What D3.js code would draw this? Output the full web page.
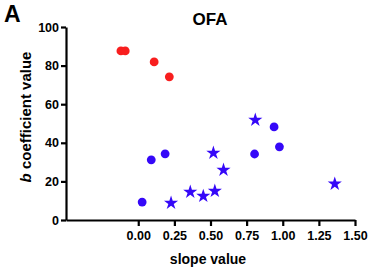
<!DOCTYPE html>
<html>
<head>
<meta charset="utf-8">
<script src="https://cdn.jsdelivr.net/npm/d3@7"></script>
<style>
body { margin: 0; background: #fff; }
text { font-family: "Liberation Sans", Arial, sans-serif; font-weight: bold; }
</style>
</head>
<body>
<div id="vis"></div>
<script>
// data
var redX = [-0.12, -0.09, 0.11, 0.215];
var redY = [87.6, 87.6, 81.9, 74.2];

var circleX = [0.027, 0.09, 0.186, 0.805, 0.94, 0.977];
var circleY = [9.3, 31.2, 34.3, 34.2, 48.2, 37.9];

var starX = [0.227, 0.36, 0.45, 0.53, 0.52, 0.59, 0.81, 1.36];
var starY = [8.8, 14.5, 12.4, 15, 34.7, 25.9, 51.8, 18.7];

var xTicks = [0, 0.25, 0.5, 0.75, 1.0, 1.25, 1.5];
var yTicks = [0, 20, 40, 60, 80, 100];

var width = 369, height = 268;

var svg = d3.select("#vis")
.append("svg")
.attr("width", width)
.attr("height", height);

var x = d3.scaleLinear().domain([-0.5, 1.5]).range([66, 355]);
var y = d3.scaleLinear().domain([0, 100]).range([220, 27]);

// axes
var xAxis = svg.append("g")
.attr("transform", "translate(0,220)")
.call(d3.axisBottom(x).tickValues(xTicks).tickFormat(d3.format(".2f")).tickSize(6).tickSizeOuter(0));

var yAxis = svg.append("g")
.attr("transform", "translate(66,0)")
.call(d3.axisLeft(y).tickValues(yTicks).tickSize(5).tickSizeOuter(0));

svg.selectAll(".domain, .tick line")
.attr("stroke", "#000")
.attr("stroke-width", 2.2);

xAxis.selectAll("text")
.attr("font-size", 12.5)
.attr("dy", "0.9em")
.attr("y", 9);

yAxis.selectAll("text")
.attr("font-size", 12.5)
.attr("x", -7);

// marks
svg.selectAll(".red")
.data(redX)
.enter()
.append("circle")
.attr("cx", function(d) { return x(d); })
.attr("cy", function(d, i) { return y(redY[i]); })
.attr("r", 4.4)
.attr("fill", "#f81e1e");

svg.selectAll(".dot")
.data(circleX)
.enter()
.append("circle")
.attr("cx", function(d) { return x(d); })
.attr("cy", function(d, i) { return y(circleY[i]); })
.attr("r", 4.4)
.attr("fill", "#3508f8");

var star = d3.symbol().type(d3.symbolStar).size(62);

svg.selectAll(".star")
.data(starX)
.enter()
.append("path")
.attr("d", star)
.attr("transform", function(d, i) { return "translate(" + x(d) + "," + y(starY[i]) + ")"; })
.attr("fill", "#3508f8");

// labels
svg.append("text")
.attr("x", 4)
.attr("y", 22)
.attr("font-size", 23)
.text("A");

svg.append("text")
.attr("text-anchor", "middle")
.attr("x", 210)
.attr("y", 25)
.attr("font-size", 17)
.text("OFA");

svg.append("text")
.attr("text-anchor", "middle")
.attr("x", 208)
.attr("y", 264)
.attr("font-size", 14)
.text("slope value");

var yl = svg.append("text")
.attr("text-anchor", "middle")
.attr("transform", "translate(31,117) rotate(-90)")
.attr("font-size", 15);
yl.append("tspan").attr("font-style", "italic").text("b");
yl.append("tspan").text(" coefficient value");
</script>
</body>
</html>
